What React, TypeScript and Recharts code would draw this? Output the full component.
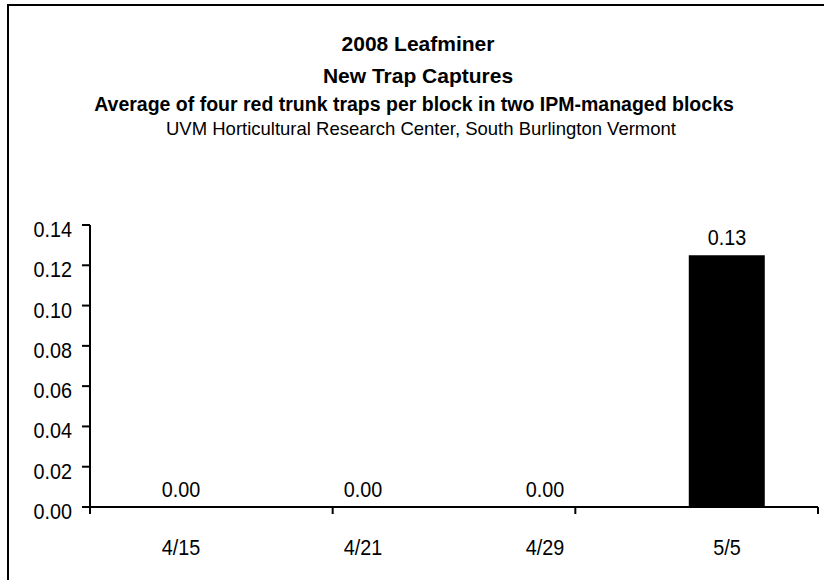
import React from 'react';
import { ComposedChart, Bar, Line, XAxis, YAxis, LabelList } from 'recharts';

const dates = ['4/15', '4/21', '4/29', '5/5'];
const captures = [0, 0, 0, 0.125];
const yTicks = [0, 0.02, 0.04, 0.06, 0.08, 0.1, 0.12, 0.14];
const edgeTicks = [0, 1, 2, 3, 4];
const titleLines = [
  '2008 Leafminer',
  'New Trap Captures',
  'Average of four red trunk traps per block in two IPM-managed blocks',
  'UVM Horticultural Research Center, South Burlington Vermont',
];

const data = dates.map((d, i) => ({ date: d, value: captures[i] }));
const FONT = '"Liberation Sans", Arial, Helvetica, sans-serif';
const TXT_SIZE = 22;
const SQUEEZE = 0.9;

function SqText({ x, y, anchor, children }: { x: number; y: number; anchor: 'start' | 'middle' | 'end'; children: any }) {
  return (
    <text
      x={0}
      y={0}
      transform={`translate(${x},${y}) scale(${SQUEEZE},1)`}
      textAnchor={anchor}
      fontFamily={FONT}
      fontSize={TXT_SIZE}
      fill="#000"
    >
      {children}
    </text>
  );
}

const YTick = (props: any) => {
  const { x, y, payload } = props;
  return <SqText x={x} y={y + 12} anchor="end">{Number(payload.value).toFixed(2)}</SqText>;
};

const XTick = (props: any) => {
  const { x, y, payload } = props;
  return <SqText x={x} y={y + 47} anchor="middle">{payload.value}</SqText>;
};

const ValueLabel = (props: any) => {
  const { x, y, value } = props;
  if (x == null || y == null) return null;
  return <SqText x={x} y={y - 10} anchor="middle">{Number(value).toFixed(2)}</SqText>;
};

export default function App() {
  return (
    <div style={{ position: 'absolute', left: 0, top: 0, width: 824, height: 580, overflow: 'hidden', background: '#fff', fontFamily: FONT }}>
      <div style={{ position: 'absolute', left: 7, top: 4, width: 900, height: 700, border: '2px solid #000', boxSizing: 'border-box' }} />
      <svg width={824} height={580} style={{ position: 'absolute', left: 0, top: 0 }}>
        <text x={418} y={51} textAnchor="middle" fontFamily={FONT} fontWeight="bold" fontSize={21} fill="#000">{titleLines[0]}</text>
        <text x={418} y={83} textAnchor="middle" fontFamily={FONT} fontWeight="bold" fontSize={21} fill="#000">{titleLines[1]}</text>
        <text x={414} y={111} textAnchor="middle" fontFamily={FONT} fontWeight="bold" fontSize={19.5} fill="#000">{titleLines[2]}</text>
        <text x={421} y={135} textAnchor="middle" fontFamily={FONT} fontSize={18.5} fill="#000">{titleLines[3]}</text>
      </svg>
      <div style={{ position: 'absolute', left: 0, top: 0 }}>
        <ComposedChart width={824} height={580} data={data} margin={{ top: 225, right: 6, left: 30, bottom: 12 }} barCategoryGap="29%">
          <XAxis
            xAxisId="b"
            dataKey="date"
            height={60}
            axisLine={false}
            tickLine={false}
            tickSize={0}
            tickMargin={0}
            tick={<XTick />}
          />
          <YAxis
            width={60}
            domain={[0, 0.14]}
            ticks={yTicks}
            interval={0}
            axisLine={{ stroke: '#000', strokeWidth: 2 }}
            tickLine={{ stroke: '#000', strokeWidth: 2 }}
            tickSize={8}
            tickMargin={10}
            tick={<YTick />}
          />
          <Bar xAxisId="b" dataKey="value" fill="#000" isAnimationActive={false} />
          <Line
            xAxisId="b"
            dataKey="value"
            stroke="none"
            dot={false}
            activeDot={false}
            isAnimationActive={false}
          >
            <LabelList dataKey="value" content={<ValueLabel />} />
          </Line>
          <XAxis
            xAxisId="a"
            type="number"
            domain={[0, 4]}
            ticks={edgeTicks}
            height={1}
            axisLine={{ stroke: '#000', strokeWidth: 2 }}
            tickLine={{ stroke: '#000', strokeWidth: 2 }}
            tickSize={7}
            tick={{ fontSize: 0 }}
            tickFormatter={() => ''}
            allowDataOverflow
          />
        </ComposedChart>
      </div>
    </div>
  );
}
